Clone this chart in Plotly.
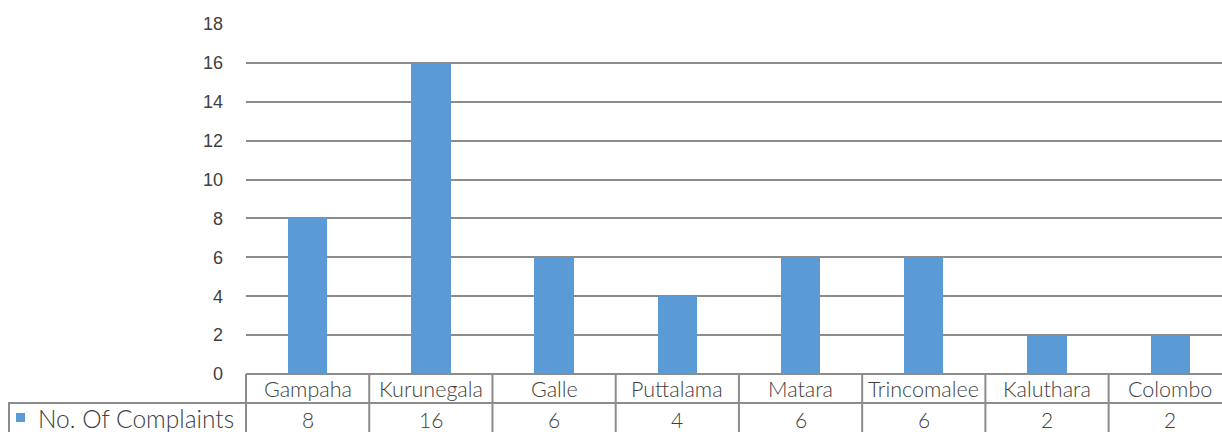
import plotly.graph_objects as go

categories = ["Gampaha", "Kurunegala", "Galle", "Puttalama", "Matara", "Trincomalee", "Kaluthara", "Colombo"]
complaints = [8, 16, 6, 4, 6, 6, 2, 2]
series_name = "No. Of Complaints"
y_ticks = [0, 2, 4, 6, 8, 10, 12, 14, 16, 18]

W, H = 1222, 432
L, T, B, R = 246, 24, 58, 0
plot_w = W - L - R
plot_h = H - T - B
XMIN, XMAX = -0.5, 7.42
GRID = "#8c8c8c"
TXT = "#404040"
BLUE = "#5B9BD5"
FONT = "Lato, 'Open Sans', sans-serif"


def py(px):
    return (H - B - px) / plot_h


def pxx(px):
    return (px - L) / plot_w


def catx(v):
    return (v - XMIN) / (XMAX - XMIN)


xs = list(range(len(categories)))
fig = go.Figure(go.Bar(x=xs, y=complaints, width=0.32, marker=dict(color=BLUE, line=dict(width=0)),
                       name=series_name, showlegend=False))

shapes = []
line = dict(color=GRID, width=2)
# table horizontal lines
shapes.append(dict(type="line", xref="paper", yref="paper", x0=0, x1=1.01, y0=0, y1=0, line=line))
shapes.append(dict(type="line", xref="paper", yref="paper", x0=pxx(8), x1=1.01, y0=py(403), y1=py(403), line=line))
# vertical lines at category boundaries
for i in range(len(categories) + 1):
    xb = catx(i - 0.5)
    if xb <= 1.0:
        shapes.append(dict(type="line", xref="paper", yref="paper", x0=xb, x1=xb, y0=0, y1=py(440), line=line))
# legend cell left border
shapes.append(dict(type="line", xref="paper", yref="paper", x0=pxx(9), x1=pxx(9), y0=py(403), y1=py(440), line=line))
# legend key
shapes.append(dict(type="rect", xref="paper", yref="paper", x0=pxx(16), x1=pxx(25), y0=py(422), y1=py(413),
                   fillcolor=BLUE, line=dict(width=0)))

annotations = []
for i, c in enumerate(categories):
    annotations.append(dict(x=i, y=py(389), xref="x", yref="paper", text=c, showarrow=False,
                            font=dict(size=21.5, color=TXT, family=FONT, weight=300),
                            xanchor="center", yanchor="middle"))
    annotations.append(dict(x=i, y=py(419), xref="x", yref="paper", text=str(complaints[i]), showarrow=False,
                            font=dict(size=21, color=TXT, family=FONT, weight=300),
                            xanchor="center", yanchor="middle"))
annotations.append(dict(x=pxx(36), y=py(418), xref="paper", yref="paper", text=series_name, showarrow=False,
                        font=dict(size=24.5, color=TXT, family=FONT, weight=300), xanchor="left", yanchor="middle"))

fig.update_layout(
    width=W, height=H,
    margin=dict(l=L, r=R, t=T, b=B, pad=0),
    plot_bgcolor="white", paper_bgcolor="white",
    bargap=0,
    xaxis=dict(range=[XMIN, XMAX], showticklabels=False, showgrid=False, zeroline=False, showline=False,
               fixedrange=True),
    yaxis=dict(range=[0, 18], tickvals=y_ticks, showgrid=True, gridcolor=GRID, gridwidth=1.5,
               zeroline=False, showline=False, ticks="", ticklabelstandoff=22,
               tickfont=dict(size=18, color=TXT, family="'Liberation Sans', Arial, sans-serif")),
    shapes=shapes,
    annotations=annotations,
)

fig.write_html("out.html")
